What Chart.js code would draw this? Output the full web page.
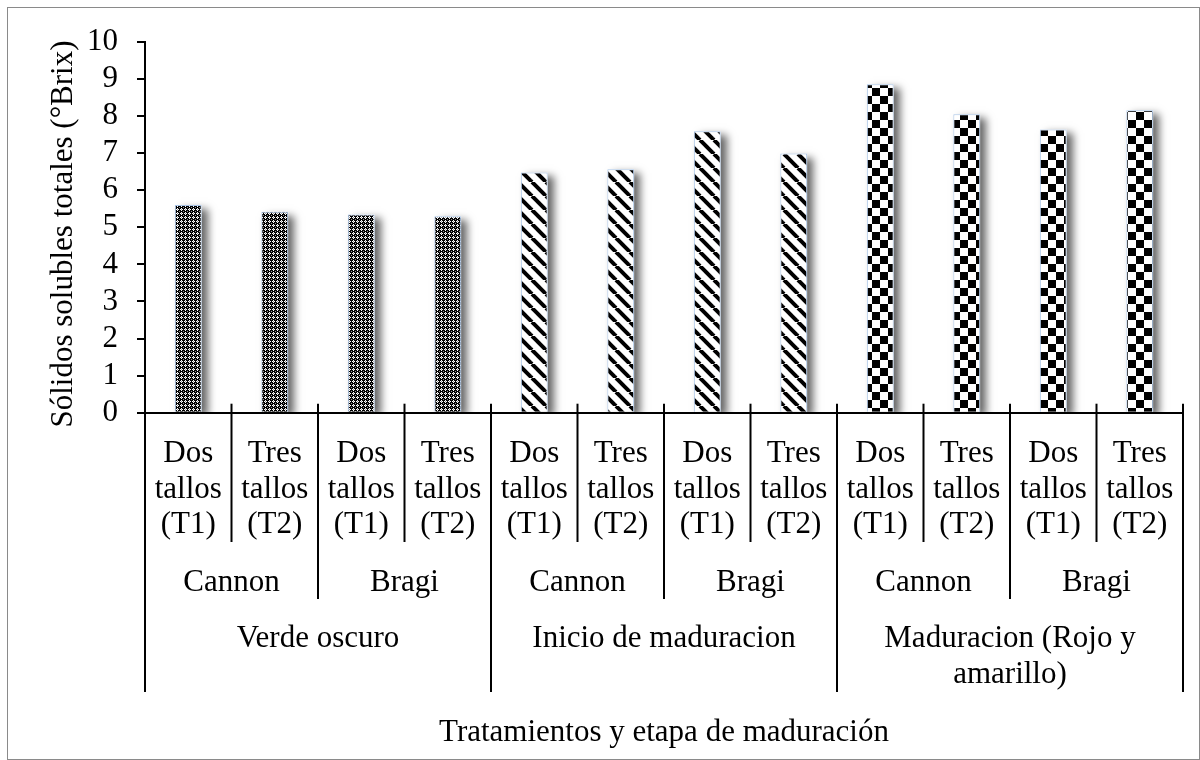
<!DOCTYPE html>
<html>
<head>
<meta charset="utf-8">
<script src="https://cdn.jsdelivr.net/npm/chart.js@4.4.1/dist/chart.umd.min.js"></script>
<style>
body { margin: 0; background: #fff; }
canvas { display: block; }
</style>
</head>
<body>
<canvas id="chart" width="1200" height="760"></canvas>
<script>
// data
const treatments = [
    ['Dos', 'tallos', '(T1)'], ['Tres', 'tallos', '(T2)'],
    ['Dos', 'tallos', '(T1)'], ['Tres', 'tallos', '(T2)'],
    ['Dos', 'tallos', '(T1)'], ['Tres', 'tallos', '(T2)'],
    ['Dos', 'tallos', '(T1)'], ['Tres', 'tallos', '(T2)'],
    ['Dos', 'tallos', '(T1)'], ['Tres', 'tallos', '(T2)'],
    ['Dos', 'tallos', '(T1)'], ['Tres', 'tallos', '(T2)']
];
const varieties = ['Cannon', 'Bragi', 'Cannon', 'Bragi', 'Cannon', 'Bragi'];
const stages = [['Verde oscuro'], ['Inicio de maduracion'], ['Maduracion (Rojo y', 'amarillo)']];
const brix = [5.6, 5.42, 5.35, 5.3, 6.48, 6.57, 7.59, 6.99, 8.86, 8.05, 7.64, 8.16];
const yTicks = [0, 1, 2, 3, 4, 5, 6, 7, 8, 9, 10];
const xTitle = 'Tratamientos y etapa de maduración';
const yTitle = 'Sólidos solubles totales (°Brix)';

const FONT = '31px "Liberation Serif"';
const canvas = document.querySelector('#chart');
const ctx = canvas.getContext('2d');

// fill patterns, one per ripening stage
function tile(size, paint) {
    const c = document.createElement('canvas');
    c.width = c.height = size;
    paint(c.getContext('2d'), size);
    return ctx.createPattern(c, 'repeat');
}

const dots = tile(4, (g) => {
    g.fillStyle = '#000';
    g.fillRect(0, 0, 4, 4);
    g.fillStyle = '#fff';
    [[1, 0], [0, 1], [2, 1], [1, 2]].forEach(([x, y]) => g.fillRect(x, y, 1, 1));
    g.fillStyle = '#999';
    g.fillRect(1, 1, 1, 1);
    g.fillRect(3, 3, 1, 1);
});

const stripes = tile(14, (g, s) => {
    g.fillStyle = '#fff';
    g.fillRect(0, 0, s, s);
    g.strokeStyle = '#000';
    g.lineWidth = 4;
    [-s, 0, s].forEach(o => {
        g.beginPath();
        g.moveTo(o, 0);
        g.lineTo(o + s, s);
        g.stroke();
    });
});

const checks = tile(16, (g) => {
    g.fillStyle = '#fff';
    g.fillRect(0, 0, 16, 16);
    g.fillStyle = '#000';
    g.fillRect(0, 0, 8, 8);
    g.fillRect(8, 8, 8, 8);
});

const stagePatterns = [dots, stripes, checks];
const perStage = treatments.length / stages.length;
const perVariety = treatments.length / varieties.length;

// white page + thin grey frame
const frame = {
    id: 'frame',
    beforeDraw(chart) {
        const c = chart.ctx;
        c.save();
        c.fillStyle = '#fff';
        c.fillRect(0, 0, chart.width, chart.height);
        c.strokeStyle = '#8a8a8a';
        c.lineWidth = 1;
        c.strokeRect(7.5, 7.5, chart.width - 8, chart.height - 8);
        c.restore();
    }
};

// soft drop shadow behind each bar
const shadow = {
    id: 'shadow',
    beforeDatasetsDraw(chart) {
        const c = chart.ctx;
        const a = chart.chartArea;
        c.save();
        c.beginPath();
        c.rect(a.left, a.top - 20, a.right - a.left, a.bottom - a.top + 20);
        c.clip();
        c.shadowColor = 'rgba(0,0,0,0.6)';
        c.shadowBlur = 8;
        c.shadowOffsetX = 6;
        c.shadowOffsetY = 4;
        c.fillStyle = '#fff';
        chart.getDatasetMeta(0).data.forEach(bar => {
            const { x, y, base, width } = bar.getProps(['x', 'y', 'base', 'width'], true);
            c.fillRect(x - width / 2, y, width, base - y);
        });
        c.restore();
    }
};

// multi level category axis, separators and titles
const axisLabels = {
    id: 'axisLabels',
    afterDraw(chart) {
        const c = chart.ctx;
        const a = chart.chartArea;
        const x = chart.scales.x;
        const n = treatments.length;
        const px = i => x.getPixelForValue(i);
        const bound = k => k === 0 ? a.left : k === n ? a.right : (px(k - 1) + px(k)) / 2;

        c.save();
        c.strokeStyle = '#000';
        c.lineWidth = 2;
        for (let k = 0; k <= n; k++) {
            const bottom = k % perStage === 0 ? 692 : k % perVariety === 0 ? 599 : 542;
            c.beginPath();
            c.moveTo(bound(k), a.bottom - 9);
            c.lineTo(bound(k), bottom);
            c.stroke();
        }

        c.fillStyle = '#000';
        c.font = FONT;
        c.textAlign = 'center';
        c.textBaseline = 'alphabetic';

        treatments.forEach((lines, i) => {
            lines.forEach((t, j) => c.fillText(t, px(i), 462 + j * 35.5));
        });
        varieties.forEach((t, j) => {
            c.fillText(t, (px(j * perVariety) + px(j * perVariety + perVariety - 1)) / 2, 590.5);
        });
        stages.forEach((lines, j) => {
            const cx = (px(j * perStage) + px(j * perStage + perStage - 1)) / 2;
            lines.forEach((t, l) => c.fillText(t, cx, 646.5 + l * 36.5));
        });

        c.fillText(xTitle, (a.left + a.right) / 2, 740.5);

        c.translate(71.5, 234);
        c.rotate(-Math.PI / 2);
        c.fillText(yTitle, 0, 0);
        c.restore();
    }
};

new Chart(ctx, {
    type: 'bar',
    data: {
        labels: treatments.map(t => t.join(' ')),
        datasets: [
            {
                data: brix,
                backgroundColor: brix.map((v, i) => stagePatterns[Math.floor(i / perStage)]),
                borderColor: '#a9c4e6',
                borderWidth: 1,
                borderSkipped: 'bottom',
                barPercentage: 0.31,
                categoryPercentage: 1
            }
        ]
    },
    options: {
        responsive: false,
        animation: false,
        layout: {
            padding: { left: 0, top: 42, right: 17, bottom: 0 }
        },
        plugins: {
            legend: { display: false },
            tooltip: { enabled: false }
        },
        scales: {
            x: {
                ticks: { display: false },
                grid: { display: false },
                border: { display: true, color: '#000', width: 2, z: 1 },
                afterFit: (s) => { s.height = 760 - 412.7; }
            },
            y: {
                min: 0,
                max: 10,
                afterBuildTicks: (s) => { s.ticks = yTicks.map(v => ({ value: v })); },
                ticks: {
                    color: '#000',
                    font: { family: 'Liberation Serif', size: 31 },
                    padding: 19,
                    autoSkip: false
                },
                grid: { drawOnChartArea: false, drawTicks: true, tickLength: 8, color: '#000', lineWidth: 2 },
                border: { display: true, color: '#000', width: 2 },
                afterFit: (s) => { s.width = 145; }
            }
        }
    },
    plugins: [frame, shadow, axisLabels]
});
</script>
</body>
</html>
